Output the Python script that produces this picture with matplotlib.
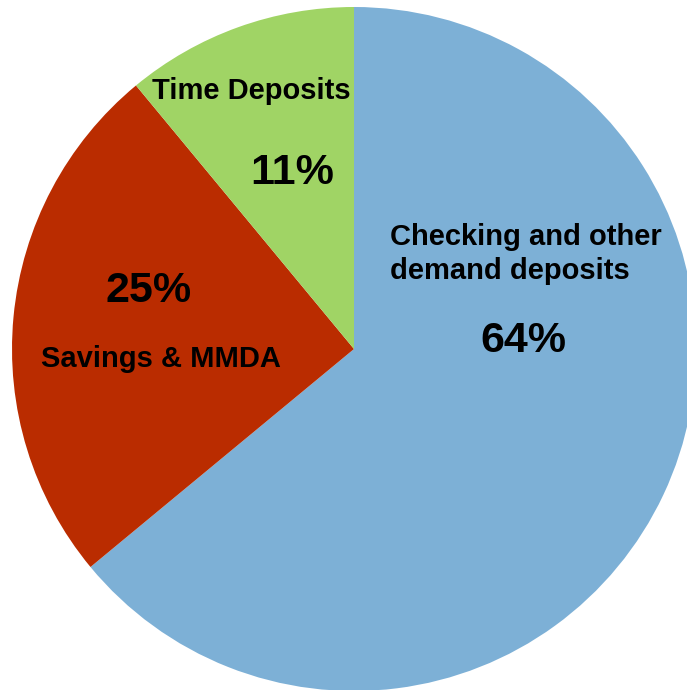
import matplotlib
matplotlib.use('Agg')
import matplotlib.pyplot as plt

# deposit mix, clockwise from 12 o'clock
labels = ['Checking and other\ndemand deposits', 'Savings & MMDA', 'Time Deposits']
shares = [64, 25, 11]
colors = ['#7DB0D6', '#BA2C00', '#A0D465']

plt.rcParams['font.family'] = ['Liberation Sans', 'DejaVu Sans']

W, H = 687, 690
fig = plt.figure(figsize=(W / 100, H / 100), dpi=100)
ax = fig.add_axes([0, 0, 1, 1])

# pie laid out in pixel units (y up)
cx, cy, r = 354, H - 349, 342
ax.pie(shares, colors=colors, startangle=90, counterclock=False,
       center=(cx, cy), radius=r, frame=True,
       wedgeprops=dict(linewidth=0))
ax.set_xlim(0, W)
ax.set_ylim(0, H)
ax.axis('off')

lab_size = 21
pct_size = 31

# label / percent positions in pixels (x, y from top)
ax.text(390, H - 254, labels[0], fontsize=lab_size, fontweight='bold',
        ha='left', va='center', linespacing=1.3)
ax.text(523, H - 341, '%d%%' % shares[0], fontsize=pct_size, fontweight='bold',
        ha='center', va='center')

ax.text(149, H - 291, '%d%%' % shares[1], fontsize=pct_size, fontweight='bold',
        ha='center', va='center')
ax.text(161, H - 359, labels[1], fontsize=lab_size, fontweight='bold',
        ha='center', va='center')

ax.text(251, H - 91, labels[2], fontsize=lab_size, fontweight='bold',
        ha='center', va='center')
ax.text(292, H - 173, '%d%%' % shares[2], fontsize=pct_size, fontweight='bold',
        ha='center', va='center')

fig.savefig('out.png', dpi=100)
